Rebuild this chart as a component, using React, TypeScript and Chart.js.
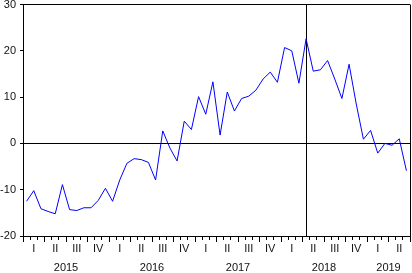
import React, { useEffect, useRef } from "react";
import { Chart, registerables } from "chart.js";

Chart.register(...registerables);

// Monthly observations, Jan 2015 .. Jun 2019
const years = ["2015", "2016", "2017", "2018", "2019"];
const quarterLabels = ["I", "II", "III", "IV"];
const monthsPerYear = [12, 12, 12, 12, 6];
const values = [
  -12.5, -10.2, -14.1, -14.7, -15.2, -8.9, -14.3, -14.5, -13.9, -13.9, -12.3, -9.7,
  -12.5, -7.9, -4.3, -3.3, -3.5, -4.1, -7.9, 2.7, -1.0, -3.8, 4.8, 3.0,
  10.1, 6.3, 13.3, 1.8, 11.1, 7.0, 9.7, 10.2, 11.5, 13.9, 15.4, 13.2,
  20.7, 20.0, 13.0, 22.6, 15.6, 15.9, 17.9, 13.9, 9.7, 17.1, 8.5, 0.9,
  2.8, -2.1, 0.0, -0.4, 1.0, -5.9,
];
const markerIndex = 39; // vertical reference line (2018M04)
const yTicks = { min: -20, max: 30, step: 10 };

const n = values.length;
const xMin = -0.5;
const xMax = n - 0.5;

// derived tick positions
const boundaries: number[] = [];
for (let i = 0; i <= n; i++) boundaries.push(i - 0.5);
const quarterCenters: { v: number; label: string }[] = [];
for (let q = 0; q * 3 + 1 < n; q++) {
  quarterCenters.push({ v: q * 3 + 1, label: quarterLabels[q % 4] });
}
const yearCenters: { v: number; label: string }[] = [];
{
  let start = 0;
  years.forEach((y, k) => {
    const len = monthsPerYear[k];
    yearCenters.push({ v: start - 0.5 + len / 2, label: y });
    start += len;
  });
}

export default function App() {
  const ref = useRef<HTMLCanvasElement | null>(null);
  useEffect(() => {
    if (!ref.current) return;
    Chart.defaults.font.family = "'Liberation Sans', Arial, sans-serif";
    Chart.defaults.font.size = 11;
    Chart.defaults.color = "#111";
    const chart = new Chart(ref.current, {
      type: "line",
      data: {
        datasets: [
          {
            data: values.map((v, i) => ({ x: i, y: v })),
            borderColor: "#0000ff",
            borderWidth: 1,
            pointRadius: 0,
            tension: 0,
            fill: false,
            xAxisID: "x",
            yAxisID: "y",
          },
        ],
      },
      options: {
        animation: false,
        responsive: false,
        events: [],
        layout: { padding: { top: 4.5, right: 2, left: 0, bottom: 0 } },
        plugins: { legend: { display: false }, tooltip: { enabled: false } },
        scales: {
          x: {
            type: "linear",
            position: "bottom",
            weight: 0,
            min: xMin,
            max: xMax,
            afterBuildTicks: (scale: any) => {
              const vals = [
                ...boundaries,
                ...quarterCenters.map((q) => q.v),
                markerIndex,
              ].sort((a, b) => a - b);
              scale.ticks = vals.map((v) => ({ value: v }));
            },
            afterFit: (scale: any) => {
              scale.height = 22;
              scale.paddingLeft = 0;
              scale.paddingRight = 0;
            },
            ticks: {
              autoSkip: false,
              maxRotation: 0,
              minRotation: 0,
              padding: 0,
              color: "#111",
              callback: (value: any) => {
                const q = quarterCenters.find((c) => c.v === value);
                return q ? q.label : "";
              },
            },
            grid: {
              drawOnChartArea: true,
              drawTicks: true,
              tickLength: 6,
              lineWidth: 1,
              color: (ctx: any) => {
                const v = ctx.tick ? ctx.tick.value : null;
                return v === markerIndex || v === xMax ? "#000" : "rgba(0,0,0,0)";
              },
              tickColor: (ctx: any) => {
                const v = ctx.tick ? ctx.tick.value : null;
                return boundaries.includes(v) ? "#000" : "rgba(0,0,0,0)";
              },
              tickBorderDash: (ctx: any) => {
                const v = ctx.tick ? ctx.tick.value : 0;
                const isQuarterEdge = Math.round(v + 0.5) % 3 === 0;
                return isQuarterEdge ? [] : [3, 30];
              },
            },
            border: { display: true, color: "#000", width: 1 },
          },
          x2: {
            type: "linear",
            position: "bottom",
            weight: 1,
            min: xMin,
            max: xMax,
            afterBuildTicks: (scale: any) => {
              scale.ticks = yearCenters.map((y) => ({ value: y.v }));
            },
            afterFit: (scale: any) => {
              scale.height = 15;
              scale.paddingLeft = 0;
              scale.paddingRight = 0;
            },
            ticks: {
              autoSkip: false,
              maxRotation: 0,
              minRotation: 0,
              padding: 3,
              color: "#111",
              callback: (value: any) => {
                const y = yearCenters.find((c) => c.v === value);
                return y ? y.label : "";
              },
            },
            grid: { display: false, drawTicks: false },
            border: { display: false },
          },
          y: {
            type: "linear",
            position: "left",
            min: yTicks.min,
            max: yTicks.max,
            afterFit: (scale: any) => {
              scale.width = 23;
              scale.paddingTop = 0;
              scale.paddingBottom = 0;
            },
            ticks: {
              stepSize: yTicks.step,
              padding: 4,
              color: "#111",
            },
            grid: {
              drawOnChartArea: true,
              drawTicks: true,
              tickLength: 3,
              tickColor: "#000",
              color: (ctx: any) => {
                const v = ctx.tick ? ctx.tick.value : null;
                return v === 0 || v === yTicks.max ? "#000" : "rgba(0,0,0,0)";
              },
            },
            border: { display: true, color: "#000", width: 1 },
          },
        },
      } as any,
    });
    return () => chart.destroy();
  }, []);
  return (
    <div style={{ position: "fixed", left: 0, top: 0, width: 412, height: 273, background: "#fff" }}>
      <canvas ref={ref} width={412} height={273} style={{ width: 412, height: 273, display: "block" }} />
    </div>
  );
}
